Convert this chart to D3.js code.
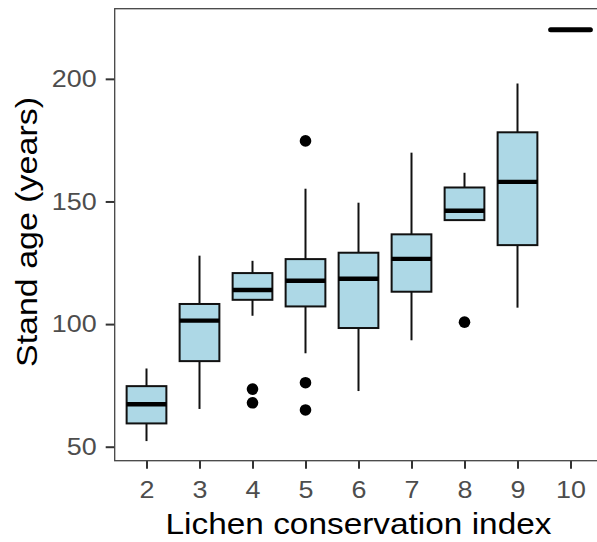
<!DOCTYPE html>
<meta charset="utf-8">
<style>
  body { margin: 0; background: #fff; }
  text { font-family: "Liberation Sans", Arial, sans-serif; }
</style>
<svg width="597" height="542"></svg>
<script src="https://d3js.org/d3.v7.min.js"></script>
<script>
// Lichen conservation index vs stand age, boxplot summaries
var categories  = ["2", "3", "4", "5", "6", "7", "8", "9", "10"];
var whiskerLow  = [52.3, 65.4, 103.4, 88.1, 72.7, 93.4, 142.4, 106.7, 220];
var q1          = [59.5, 84.9, 109.9, 107.2, 98.4, 113.2, 142.4, 132.2, 220];
var medians     = [67.3, 101.4, 113.9, 117.7, 118.5, 126.6, 146.2, 158.0, 220];
var q3          = [74.7, 108.2, 120.8, 126.5, 129.1, 136.6, 155.7, 178.2, 220];
var whiskerHigh = [81.9, 127.9, 125.8, 155.2, 149.5, 169.9, 161.7, 198.1, 220];
var outliers    = [[], [], [73.5, 67.9], [174.7, 76.1, 65.0], [], [], [100.8], [], []];
var yTicks = [50, 100, 150, 200];

var svg = d3.select("svg"),
    panel = {left: 114.7, top: 8.7, right: 602.3, bottom: 460.7};

var x = d3.scalePoint()
    .domain(categories)
    .range([panel.left, panel.right])
    .padding(0.6);

var y = d3.scaleLinear()
    .domain([44.3, 228.6])
    .range([panel.bottom, panel.top]);

var boxW = x.step() * 0.75;

var data = categories.map(function(c, i) {
  return {cat: c, lo: whiskerLow[i], q1: q1[i], med: medians[i], q3: q3[i], hi: whiskerHigh[i], out: outliers[i]};
});

var g = svg.append("g");

// whiskers
g.selectAll(".whisker").data(data).enter().append("line")
    .attr("x1", function(d) { return x(d.cat); })
    .attr("x2", function(d) { return x(d.cat); })
    .attr("y1", function(d) { return y(d.lo); })
    .attr("y2", function(d) { return y(d.hi); })
    .attr("stroke", "#111")
    .attr("stroke-width", 2);

// boxes
g.selectAll(".box").data(data.filter(function(d) { return d.q3 > d.q1; })).enter().append("rect")
    .attr("x", function(d) { return x(d.cat) - boxW / 2; })
    .attr("width", boxW)
    .attr("y", function(d) { return y(d.q3); })
    .attr("height", function(d) { return y(d.q1) - y(d.q3); })
    .attr("fill", "#add8e6")
    .attr("stroke", "#111")
    .attr("stroke-width", 2);

// medians
g.selectAll(".median").data(data).enter().append("line")
    .attr("x1", function(d) { return x(d.cat) - boxW / 2; })
    .attr("x2", function(d) { return x(d.cat) + boxW / 2; })
    .attr("y1", function(d) { return y(d.med); })
    .attr("y2", function(d) { return y(d.med); })
    .attr("stroke", "#000")
    .attr("stroke-width", function(d) { return d.q3 > d.q1 ? 4.4 : 5; })
    .attr("stroke-linecap", function(d) { return d.q3 > d.q1 ? "butt" : "round"; });

// outliers
data.forEach(function(d) {
  g.selectAll(null).data(d.out).enter().append("circle")
      .attr("cx", x(d.cat))
      .attr("cy", function(v) { return y(v); })
      .attr("r", 5.8)
      .attr("fill", "#000");
});

// axes
var yAxis = svg.append("g")
    .attr("transform", "translate(" + panel.left + ",0)")
    .call(d3.axisLeft(y).tickValues(yTicks).tickSize(9).tickPadding(9));
var xAxis = svg.append("g")
    .attr("transform", "translate(0," + panel.bottom + ")")
    .call(d3.axisBottom(x).tickSize(8).tickPadding(12));

[yAxis, xAxis].forEach(function(a) {
  a.select(".domain").remove();
  a.selectAll(".tick line").attr("stroke", "#333").attr("stroke-width", 2);
  a.selectAll(".tick text")
      .attr("fill", "#4d4d4d")
      .style("font-size", "24px")
      .style("font-family", "'Liberation Sans', Arial, sans-serif")
      .each(function() {
        // the reference text is a little wider than the font
        var w = this.getComputedTextLength();
        d3.select(this).attr("textLength", w * 1.12).attr("lengthAdjust", "spacingAndGlyphs");
      });
});

// panel border
svg.append("rect")
    .attr("x", panel.left)
    .attr("y", panel.top)
    .attr("width", panel.right - panel.left)
    .attr("height", panel.bottom - panel.top)
    .attr("fill", "none")
    .attr("stroke", "#444")
    .attr("stroke-width", 1.3);

// axis titles
svg.append("text")
    .attr("x", (panel.left + panel.right) / 2)
    .attr("y", 534)
    .attr("text-anchor", "middle")
    .attr("textLength", 386)
    .attr("lengthAdjust", "spacingAndGlyphs")
    .style("font-size", "30px")
    .text("Lichen conservation index");

svg.append("text")
    .attr("transform", "translate(37," + 232 + ") rotate(-90)")
    .attr("text-anchor", "middle")
    .attr("textLength", 270)
    .attr("lengthAdjust", "spacingAndGlyphs")
    .style("font-size", "30px")
    .text("Stand age (years)");
</script>
